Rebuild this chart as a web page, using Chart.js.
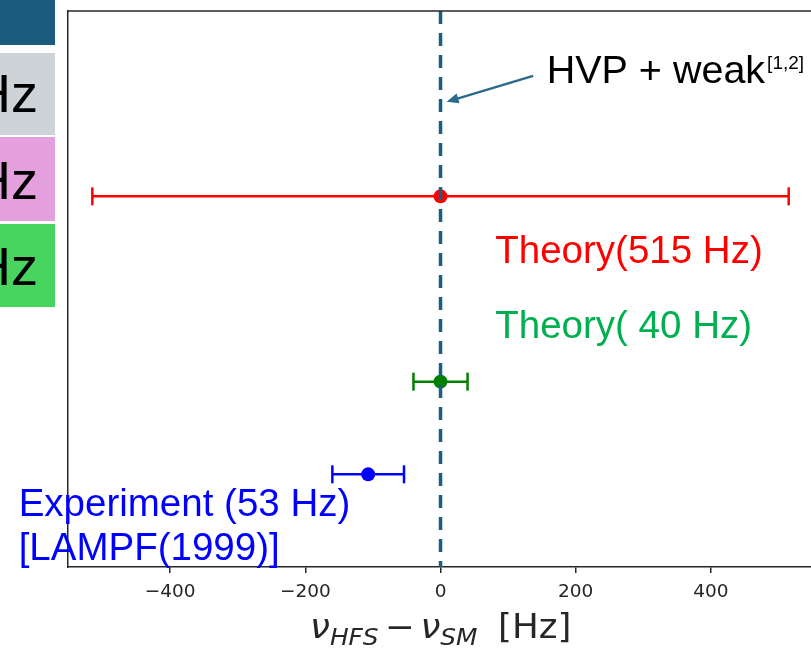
<!DOCTYPE html>
<html>
<head>
<meta charset="utf-8">
<title>Muonium HFS</title>
<script src="https://cdn.jsdelivr.net/npm/chart.js@4.4.0/dist/chart.umd.min.js"></script>
<style>
  body { margin: 0; background: #fff; }
  #wrap { position: relative; width: 811px; height: 648px; overflow: hidden; }
</style>
</head>
<body>
<div id="wrap"><canvas id="myChart" width="811" height="648"></canvas></div>
<script>
// offsets from the SM value (Hz) with their uncertainties
const rowNames = ["Theory(515 Hz)", "Theory( 40 Hz)", "Experiment (53 Hz)"];
const centers = [0, 0, -107];
const errors = [515, 40, 53];
const rowLevels = [4, 2, 1];
const barColors = ["#ff0000", "#008000", "#0000ff"];
const textColors = ["#ff0000", "#00b050", "#0000ff"];
const xTicks = [-400, -200, 0, 200, 400];
const hvpLine = 0;

const ctx = document.getElementById("myChart");
const ink = "#262626";

// text anchors, in axis units
const notes = [
  { text: rowNames[0], x: 81, y: 3.28, color: textColors[0] },
  { text: rowNames[1], x: 81, y: 2.47, color: textColors[1] },
  { text: rowNames[2], x: -624, y: 0.545, color: textColors[2] },
  { text: "[LAMPF(1999)]", x: -624, y: 0.08, color: textColors[2] },
];

// slide side boxes that sit left of the plot
const sideBoxes = [
  { y: 0, h: 45, color: "#1b5b7d", label: "" },
  { y: 53, h: 82, color: "#ced3d8", label: "Hz", base: 112 },
  { y: 137, h: 84, color: "#e4a0dd", label: "Hz", base: 199 },
  { y: 224, h: 83, color: "#48d55f", label: "Hz", base: 285 },
];

function buildDatasets() {
  const sets = [
    {
      label: "HVP + weak",
      data: [{ x: hvpLine, y: 6 }, { x: hvpLine, y: 0 }],
      showLine: true,
      borderColor: "#1a5f80",
      borderWidth: 3.5,
      borderDash: [13, 9],
      pointRadius: 0,
      order: 0,
    },
  ];
  rowNames.forEach((name, i) => {
    sets.push({
      label: name + " err",
      data: [
        { x: centers[i] - errors[i], y: rowLevels[i] },
        { x: centers[i] + errors[i], y: rowLevels[i] },
      ],
      showLine: true,
      borderColor: barColors[i],
      borderWidth: 2.5,
      pointStyle: "line",
      pointRotation: 90,
      pointRadius: 9,
      pointBorderWidth: 2.5,
      pointBorderColor: barColors[i],
      order: 2,
    });
    sets.push({
      label: name,
      data: [{ x: centers[i], y: rowLevels[i] }],
      pointRadius: 7,
      pointBackgroundColor: barColors[i],
      pointBorderWidth: 0,
      order: 1,
    });
  });
  return sets;
}

const decor = {
  id: "decor",
  beforeDraw(chart) {
    const c = chart.ctx;
    c.save();
    sideBoxes.forEach((b) => {
      c.fillStyle = b.color;
      c.fillRect(0, b.y, 55, b.h);
      if (b.label) {
        c.fillStyle = "#000";
        c.font = "54px 'Liberation Sans', Arial, sans-serif";
        c.textAlign = "right";
        c.textBaseline = "alphabetic";
        c.fillText(b.label, 38, b.base);
      }
    });
    c.restore();
  },
  afterDraw(chart) {
    const c = chart.ctx;
    const xs = chart.scales.x;
    const ys = chart.scales.y;
    const area = chart.chartArea;
    c.save();

    // top spine
    c.strokeStyle = ink;
    c.lineWidth = 1.5;
    c.beginPath();
    c.moveTo(area.left, area.top);
    c.lineTo(area.right, area.top);
    c.stroke();

    // row labels
    c.textAlign = "left";
    c.textBaseline = "alphabetic";
    c.font = "38.5px 'Liberation Sans', Arial, sans-serif";
    notes.forEach((n) => {
      c.fillStyle = n.color;
      c.fillText(n.text, xs.getPixelForValue(n.x), ys.getPixelForValue(n.y));
    });

    // HVP + weak callout with arrow
    const tx = xs.getPixelForValue(157), ty = ys.getPixelForValue(5.22);
    c.fillStyle = "#000";
    c.font = "39.5px 'Liberation Sans', Arial, sans-serif";
    c.fillText("HVP + weak", tx, ty);
    const w = c.measureText("HVP + weak").width;
    c.font = "19px 'Liberation Sans', Arial, sans-serif";
    c.fillText("[1,2]", tx + w + 2, ty - 14);

    const x0 = xs.getPixelForValue(137), y0 = ys.getPixelForValue(5.3);
    const x1 = xs.getPixelForValue(9), y1 = ys.getPixelForValue(5.02);
    const ang = Math.atan2(y1 - y0, x1 - x0);
    const head = 13;
    c.strokeStyle = "#2a6b8c";
    c.fillStyle = "#2a6b8c";
    c.lineWidth = 2.5;
    c.beginPath();
    c.moveTo(x0, y0);
    c.lineTo(x1 - Math.cos(ang) * head * 0.8, y1 - Math.sin(ang) * head * 0.8);
    c.stroke();
    c.beginPath();
    c.moveTo(x1, y1);
    c.lineTo(x1 - head * Math.cos(ang - 0.4), y1 - head * Math.sin(ang - 0.4));
    c.lineTo(x1 - head * Math.cos(ang + 0.4), y1 - head * Math.sin(ang + 0.4));
    c.closePath();
    c.fill();

    // x-axis title: nu_HFS - nu_SM [Hz]
    const big = 33, sub = 23;
    c.fillStyle = ink;
    c.translate(310, 638);
    c.scale(1.08, 1);
    let cx = 0;
    const put = (t, font, dy) => {
      c.font = font;
      c.fillText(t, cx, dy);
      cx += c.measureText(t).width;
    };
    put("\u03bd", "italic " + big + "px 'DejaVu Sans'", 0);
    put("HFS", "italic " + sub + "px 'DejaVu Sans'", 7);
    cx += 6;
    put("\u2212", big + "px 'DejaVu Sans'", 0);
    cx += 5;
    put("\u03bd", "italic " + big + "px 'DejaVu Sans'", 0);
    put("SM", "italic " + sub + "px 'DejaVu Sans'", 7);
    cx += 19;
    put("[Hz]", big + "px 'DejaVu Sans'", 0);

    c.restore();
  },
};

new Chart(ctx, {
  type: "scatter",
  data: { datasets: buildDatasets() },
  options: {
    responsive: false,
    animation: false,
    layout: { autoPadding: false, padding: { left: 68, top: 11, right: 0, bottom: 0 } },
    plugins: { legend: { display: false }, tooltip: { enabled: false } },
    scales: {
      x: {
        type: "linear",
        min: -551,
        max: 548,
        afterFit: (s) => { s.height = 81; },
        afterBuildTicks: (s) => { s.ticks = xTicks.map((v) => ({ value: v })); },
        ticks: {
          color: ink,
          padding: 8,
          font: { family: "DejaVu Sans", size: 18.5 },
          callback: (v) => String(v).replace("-", "\u2212"),
        },
        grid: { drawOnChartArea: false, drawTicks: true, tickLength: 6, color: ink, lineWidth: 1.5 },
        border: { display: true, color: ink, width: 1.5 },
      },
      y: {
        min: 0,
        max: 6,
        afterFit: (s) => { s.width = 0; },
        ticks: { display: false },
        grid: { drawOnChartArea: false, drawTicks: false },
        border: { display: true, color: ink, width: 1.5 },
      },
    },
  },
  plugins: [decor],
});
</script>
</body>
</html>
